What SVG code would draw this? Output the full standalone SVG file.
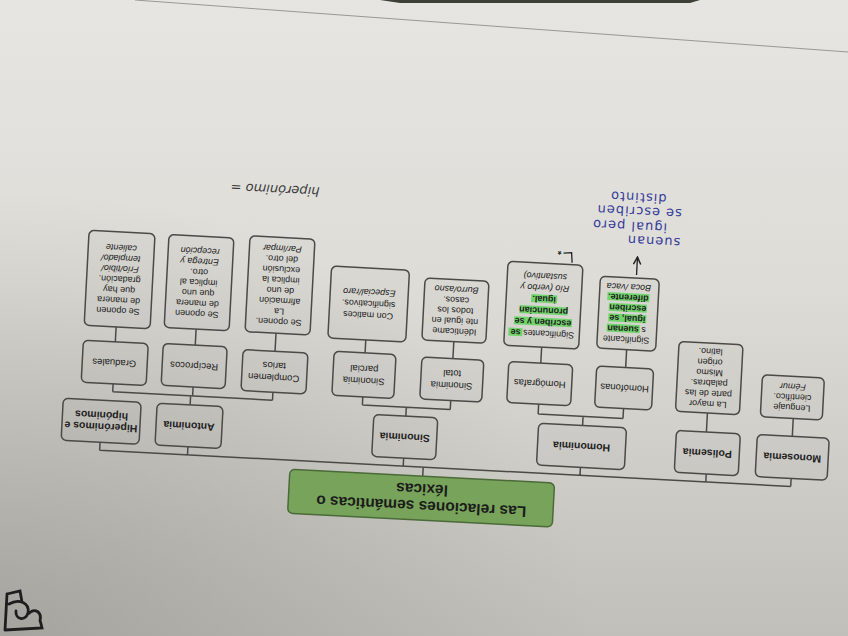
<svg xmlns="http://www.w3.org/2000/svg" width="848" height="636" viewBox="0 0 848 636">
<defs>
<linearGradient id="paper" x1="0" y1="0" x2="0" y2="1">
<stop offset="0" stop-color="#e6e5e1"/>
<stop offset="0.45" stop-color="#dddcd7"/>
<stop offset="1" stop-color="#c1bfb9"/>
</linearGradient>
<radialGradient id="shade" cx="0" cy="1" r="0.7">
<stop offset="0" stop-color="#8f8d88" stop-opacity="0.55"/>
<stop offset="1" stop-color="#8f8d88" stop-opacity="0"/>
</radialGradient>
<marker id="arr" viewBox="0 0 10 10" refX="9" refY="5" markerWidth="7" markerHeight="7" orient="auto">
<path d="M1,1 L9,5 L1,9" fill="none" stroke="#222" stroke-width="1.6"/>
</marker>
<style>
.box{fill:#000;fill-opacity:0.02;stroke:#4a4a47;stroke-width:1.5}
.root{fill:#78a35a;stroke:#4b6a3a;stroke-width:1.5}
.ln{fill:none;stroke:#4a4a47;stroke-width:1.5}
text{font-family:"Liberation Sans",Arial,sans-serif;fill:#222;text-anchor:middle}
.t0{font-size:15.5px;font-weight:bold;fill:#1c1c1c}
.t1{font-size:10.5px;font-weight:bold}
.t2{font-size:9.5px}
.t3{font-size:9px}
.it{font-style:italic}
.b{font-weight:bold}
.hl{fill:#4fd34a;opacity:0.75}
.hand{font-family:"DejaVu Sans",sans-serif;font-size:13px;text-anchor:start;fill:#343a99;letter-spacing:1px}
.hand2{font-family:"DejaVu Sans",sans-serif;font-size:13px;text-anchor:start;fill:#3a3a3a;font-style:italic}
</style>
</defs>
<rect x="0" y="0" width="848" height="636" fill="url(#paper)"/>
<rect x="0" y="0" width="848" height="636" fill="url(#shade)"/>
<polygon points="380,0 700,0 690,3 400,3" fill="#3d4036"/>
<line x1="135" y1="0" x2="848" y2="52" stroke="#9a9893" stroke-width="1"/>
<g fill="none" stroke="#1e1e1e" stroke-width="2.8" stroke-linecap="round">
<path d="M7,594 L20,591 L22,602 M9,604 C19,598 30,603 28,613 C25,622 15,619 16,611 M28,614 C35,607 42,612 40,621 M7,594 L5,630 M5,630 L42,628 L40,620"/>
</g>

<g transform="rotate(183 424 318)">
<g id="connectors">
<path class="ln" d="M417,160 V169 M49,169 H741 M49,169 V177 M134,169 V177 M260,169 V177 M437,169 V177 M653,169 V177 M741,169 V177"/>
<path class="ln" d="M50,219 V237 M136,219 V238"/>
<path class="ln" d="M260,219 V228 M220,228 H305 M220,228 V238 M305,228 V238"/>
<path class="ln" d="M437,219 V228 M393,228 H481 M393,228 V237 M481,228 V236"/>
<path class="ln" d="M653,219 V228 M571,228 H731 M571,228 V236 M651,228 V237 M731,228 V236"/>
<path class="ln" d="M220,279 V297 M305,279 V295 M393,279 V296 M481,280 V293 M571,277 V295 M651,279 V295 M731,278 V293"/>
</g>

<g id="root">
<rect class="root" x="285" y="116" width="265" height="44" rx="5"/>
<text class="t0" x="417" y="135">Las relaciones semánticas o</text>
<text class="t0" x="417" y="152">léxicas</text>
</g>

<g id="monosemia">
<rect class="box" x="13" y="177" width="72" height="42" rx="5"/>
<text class="t1" x="49" y="201.5">Monosemia</text>
</g>
<g id="polisemia">
<rect class="box" x="102" y="177" width="64" height="42" rx="5"/>
<text class="t1" x="134" y="201.5">Polisemia</text>
</g>
<g id="homonimia">
<rect class="box" x="216" y="177" width="88" height="42" rx="5"/>
<text class="t1" x="260" y="201.5">Homonimia</text>
</g>
<g id="sinonimia">
<rect class="box" x="405" y="177" width="64" height="42" rx="5"/>
<text class="t1" x="437" y="201.5">Sinonimia</text>
</g>
<g id="antonimia">
<rect class="box" x="620" y="177" width="66" height="42" rx="5"/>
<text class="t1" x="653" y="201.5">Antonimia</text>
</g>
<g id="hiperonimos">
<rect class="box" x="702" y="177" width="78" height="42" rx="5"/>
<text class="t1" x="741" y="196">Hiperónimos e</text>
<text class="t1" x="741" y="207.5">hipónimos</text>
</g>

<g id="monosemia-def">
<rect class="box" x="21" y="237" width="62" height="42" rx="5"/>
<text class="t3" x="52" y="250.7">Lenguaje</text>
<text class="t3" x="52" y="261.2">científico.</text>
<text class="t3 it" x="52" y="271.7">Fémur</text>
</g>
<g id="polisemia-def">
<rect class="box" x="104" y="238" width="64" height="70" rx="5"/>
<text class="t3" x="136" y="250">La mayor</text>
<text class="t3" x="136" y="260.5">parte de las</text>
<text class="t3" x="136" y="271">palabras.</text>
<text class="t3" x="136" y="281.5">Mismo</text>
<text class="t3" x="136" y="292">origen</text>
<text class="t3" x="136" y="302.5">latino.</text>
</g>

<g id="homofonas">
<rect class="box" x="192" y="238" width="57" height="41" rx="5"/>
<text class="t2" x="220" y="261.8">Homófonas</text>
</g>
<g id="homografas">
<rect class="box" x="273" y="238" width="64" height="41" rx="5"/>
<text class="t2" x="305" y="261.8">Homógrafas</text>
</g>
<g id="sinonimia-total">
<rect class="box" x="362" y="237" width="62" height="42" rx="5"/>
<text class="t2" x="393" y="255.3">Sinonimia</text>
<text class="t2" x="393" y="267.3">total</text>
</g>
<g id="sinonimia-parcial">
<rect class="box" x="450" y="236" width="62" height="44" rx="5"/>
<text class="t2" x="481" y="255.3">Sinonimia</text>
<text class="t2" x="481" y="267.3">parcial</text>
</g>
<g id="complementarios">
<rect class="box" x="538" y="236" width="65" height="41" rx="5"/>
<text class="t2" x="571" y="253.8">Complemen</text>
<text class="t2" x="571" y="265.8">tarios</text>
</g>
<g id="reciprocos">
<rect class="box" x="619" y="237" width="64" height="42" rx="5"/>
<text class="t2" x="651" y="261.3">Recíprocos</text>
</g>
<g id="graduales">
<rect class="box" x="698" y="236" width="65" height="42" rx="5"/>
<text class="t2" x="731" y="260.3">Graduales</text>
</g>

<g id="homofonas-def">
<rect class="box" x="191" y="297" width="59" height="72" rx="5"/>
<rect class="hl" x="208" y="314" width="33" height="8"/>
<rect class="hl" x="202" y="324.5" width="38" height="8"/>
<rect class="hl" x="202" y="335" width="38" height="8"/>
<rect class="hl" x="200" y="345.5" width="42" height="8"/>
<text class="t3" x="221" y="310">Significante</text>
<text class="t3" x="221" y="320.5">s <tspan class="b">suenan</tspan></text>
<text class="t3 b" x="221" y="331">igual, se</text>
<text class="t3 b" x="221" y="341.5">escriben</text>
<text class="t3 b" x="221" y="352">diferente.</text>
<text class="t3 it" x="221" y="362.5">Boca /vaca</text>
</g>
<g id="homografas-def">
<rect class="box" x="268" y="295" width="75" height="84" rx="5"/>
<rect class="hl" x="325" y="305" width="14" height="8"/>
<rect class="hl" x="276" y="316.5" width="58" height="8"/>
<rect class="hl" x="281" y="328" width="48" height="8"/>
<rect class="hl" x="292" y="339.5" width="26" height="8"/>
<text class="t3" x="305" y="311.5">Significantes <tspan class="b">se</tspan></text>
<text class="t3 b" x="305" y="323">escriben y se</text>
<text class="t3 b" x="305" y="334.5">pronuncian</text>
<text class="t3 b" x="305" y="346">igual.</text>
<text class="t3 it" x="305" y="357.5">Río (verbo y</text>
<text class="t3 it" x="305" y="369">sustantivo)</text>
</g>
<g id="total-def">
<rect class="box" x="361" y="296" width="64" height="62" rx="5"/>
<text class="t3" x="393" y="309.2">Idénticame</text>
<text class="t3" x="393" y="319.7">nte igual en</text>
<text class="t3" x="393" y="330.2">todos los</text>
<text class="t3" x="393" y="340.7">casos.</text>
<text class="t3 it" x="393" y="351.2">Burro/asno</text>
</g>
<g id="parcial-def">
<rect class="box" x="441" y="293" width="78" height="72" rx="5"/>
<text class="t3" x="480" y="320.8">Con matices</text>
<text class="t3" x="480" y="332.3">significativos.</text>
<text class="t3 it" x="480" y="343.8">Especial/raro</text>
</g>
<g id="complementarios-def">
<rect class="box" x="537" y="295" width="65" height="96" rx="5"/>
<text class="t3" x="569" y="309.5">Se oponen.</text>
<text class="t3" x="569" y="320">La</text>
<text class="t3" x="569" y="330.5">afirmación</text>
<text class="t3" x="569" y="341">de uno</text>
<text class="t3" x="569" y="351.5">implica la</text>
<text class="t3" x="569" y="362">exclusión</text>
<text class="t3" x="569" y="372.5">del otro.</text>
<text class="t3 it" x="569" y="383">Par/impar</text>
</g>
<g id="reciprocos-def">
<rect class="box" x="618" y="295" width="65" height="93" rx="5"/>
<text class="t3" x="651" y="313.2">Se oponen</text>
<text class="t3" x="651" y="323.7">de manera</text>
<text class="t3" x="651" y="334.2">que uno</text>
<text class="t3" x="651" y="344.7">implica al</text>
<text class="t3" x="651" y="355.2">otro.</text>
<text class="t3 it" x="651" y="365.7">Entrega y</text>
<text class="t3 it" x="651" y="376.2">recepción</text>
</g>
<g id="graduales-def">
<rect class="box" x="697" y="293" width="66" height="95" rx="5"/>
<text class="t3" x="730" y="312.2">Se oponen</text>
<text class="t3" x="730" y="322.7">de manera</text>
<text class="t3" x="730" y="333.2">que hay</text>
<text class="t3" x="730" y="343.7">gradación.</text>
<text class="t3 it" x="730" y="354.2">Frío/tibio/</text>
<text class="t3 it" x="730" y="364.7">templado/</text>
<text class="t3 it" x="730" y="375.2">caliente</text>
</g>

<g id="annotations">
<line x1="214" y1="372" x2="214" y2="390" stroke="#222" stroke-width="1.3" marker-end="url(#arr)"/>
<text class="hand" x="172" y="411">suenan</text>
<text class="hand" x="186" y="425">igual pero</text>
<text class="hand" x="172" y="440">se escriben</text>
<text class="hand" x="188" y="454">distinto</text>
<path d="M279,381 L280,391 L288,390" fill="none" stroke="#222" stroke-width="1.3"/>
<text x="292" y="395" style="font-size:10px;font-weight:bold;fill:#222">*</text>
<text class="hand2" x="535" y="443">hiperónimo =</text>
</g>
</g>
</svg>
